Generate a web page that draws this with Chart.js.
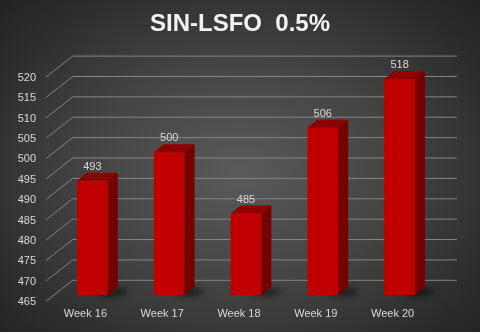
<!DOCTYPE html>
<html>
<head>
<meta charset="utf-8">
<script src="https://cdn.jsdelivr.net/npm/chart.js@4"></script>
<style>
  html, body { margin: 0; padding: 0; }
  body {
    width: 480px; height: 332px; overflow: hidden;
    background: radial-gradient(ellipse 70% 75% at 50% 52%, #5a5a5a 0%, #444 45%, #2a2a2a 85%, #222 100%);
  }
  #wrap { position: relative; width: 480px; height: 332px; }
</style>
</head>
<body>
<div id="wrap"><canvas id="chart"></canvas></div>
<script>
// valores
const weeks  = ['Week 16', 'Week 17', 'Week 18', 'Week 19', 'Week 20'];
const prices = [493, 500, 485, 506, 518];
const yMin = 465, yMax = 520, yStep = 5;

const FONT = '"Liberation Sans", Arial, sans-serif';
const TEXT = '#d9d9d9';

// efeito 3D: grelha em perspectiva, faces laterais/topo das barras, sombras e rótulos
const box3d = {
  id: 'box3d',
  beforeDatasetsDraw(chart) {
    const { ctx, chartArea: a, scales: { y } } = chart;
    ctx.save();
    ctx.strokeStyle = '#858585';
    ctx.lineWidth = 1;
    for (let v = yMin; v <= yMax; v += yStep) {
      const py = y.getPixelForValue(v);
      ctx.beginPath();
      ctx.moveTo(a.left - 8, py + 6.3);
      ctx.lineTo(a.left + 18.7, py - 14.7);
      ctx.lineTo(a.right + 19, py - 14.7);
      ctx.stroke();
    }
    // sombras no chão
    const meta = chart.getDatasetMeta(0);
    ctx.filter = 'blur(3px)';
    ctx.fillStyle = 'rgba(0,0,0,0.55)';
    meta.data.forEach(bar => {
      const x1 = bar.x + bar.width / 2;
      ctx.beginPath();
      ctx.ellipse(x1 + 4, bar.base - 3, 16, 4, 0, 0, Math.PI * 2);
      ctx.fill();
    });
    ctx.restore();
  },
  afterDatasetsDraw(chart) {
    const { ctx } = chart;
    const meta = chart.getDatasetMeta(0);
    const dx = 10, dy = -8;
    ctx.save();
    meta.data.forEach((bar, i) => {
      const x0 = bar.x - bar.width / 2, x1 = bar.x + bar.width / 2;
      // topo
      ctx.fillStyle = '#8e0000';
      ctx.beginPath();
      ctx.moveTo(x0, bar.y); ctx.lineTo(x1, bar.y);
      ctx.lineTo(x1 + dx, bar.y + dy); ctx.lineTo(x0 + dx, bar.y + dy);
      ctx.closePath(); ctx.fill();
      // lateral
      ctx.fillStyle = '#760000';
      ctx.beginPath();
      ctx.moveTo(x1, bar.y); ctx.lineTo(x1 + dx, bar.y + dy);
      ctx.lineTo(x1 + dx, bar.base + dy); ctx.lineTo(x1, bar.base);
      ctx.closePath(); ctx.fill();
      // rótulo
      ctx.fillStyle = TEXT;
      ctx.font = '11px ' + FONT;
      ctx.textAlign = 'center';
      ctx.textBaseline = 'middle';
      ctx.fillText(String(prices[i]), bar.x, bar.y - 14);
    });
    ctx.restore();
  }
};

new Chart(document.getElementById('chart'), {
  type: 'bar',
  data: {
    labels: weeks,
    datasets: [{
      data: prices,
      base: yMin,
      backgroundColor: '#c00000',
      borderWidth: 0,
      barPercentage: 0.4,
      categoryPercentage: 1,
      clip: false
    }]
  },
  options: {
    responsive: true,
    maintainAspectRatio: false,
    animation: false,
    layout: { padding: 0 },
    plugins: {
      legend: { display: false },
      tooltip: { enabled: false },
      title: {
        display: true,
        text: 'SIN-LSFO  0.5%',
        color: '#f2f2f2',
        font: { family: FONT, size: 24, weight: 'bold' },
        padding: { top: 10, bottom: 32 }
      }
    },
    scales: {
      x: {
        grid: { display: false, drawTicks: false },
        border: { display: false },
        ticks: {
          color: TEXT, font: { family: FONT, size: 11 },
          padding: 12, labelOffset: -7, maxRotation: 0
        },
        afterFit: s => { s.height = 37; }
      },
      y: {
        min: yMin, max: yMax,
        grid: { display: false, drawTicks: false },
        border: { display: false },
        ticks: {
          stepSize: yStep, color: TEXT, font: { family: FONT, size: 11 },
          padding: 18, labelOffset: 7
        },
        afterFit: s => { s.width = 54; }
      },
      // eixo vazio à direita, só para reservar a margem da parede 3D
      spacer: {
        type: 'linear', position: 'right',
        grid: { display: false, drawTicks: false },
        border: { display: false },
        ticks: { display: false },
        afterFit: s => { s.width = 42; }
      }
    }
  },
  plugins: [box3d]
});
</script>
</body>
</html>
